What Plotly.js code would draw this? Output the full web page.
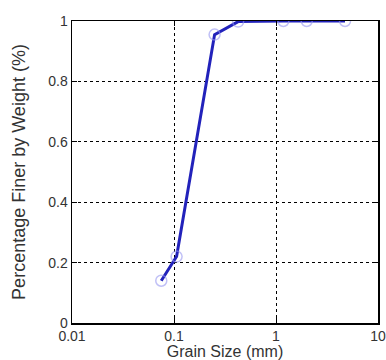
<!DOCTYPE html>
<html><head><meta charset="utf-8">
<script src="https://cdn.plot.ly/plotly-3.0.1.min.js"></script>
<style>html,body{margin:0;padding:0;background:#fff}#chart{width:386px;height:360px}</style>
</head><body><div id="chart"></div>
<script>
const grainSize = [0.075, 0.106, 0.25, 0.425, 1.18, 2.0, 4.75];
const percentFiner = [0.14, 0.22, 0.955, 0.998, 1.0, 1.0, 1.0];
const xTickVals = [0.01, 0.1, 1, 10];
const xTickText = ['0.01', '0.1', '1', '10'];
const yTickVals = [0, 0.2, 0.4, 0.6, 0.8, 1];
const yTickText = ['0', '0.2', '0.4', '0.6', '0.8', '1'];

const fam = 'Liberation Sans, Arial, sans-serif';
const tickFont = {family: fam, size: 14, color: '#333'};
const xTitleFont = {family: fam, size: 16, color: '#333'};
const yTitleFont = {family: fam, size: 18, color: '#333'};
const trace = {
  x: grainSize, y: percentFiner, type: 'scatter', mode: 'lines+markers',
  line: {color: '#2222bb', width: 3},
  marker: {symbol: 'circle-open', size: 11, color: 'rgba(150,150,240,0.6)', line: {width: 1.5}},
  hoverinfo: 'skip'
};
const layout = {
  width: 386, height: 360,
  margin: {l: 72, r: 8, t: 21, b: 37},
  paper_bgcolor: '#fff', plot_bgcolor: '#fff',
  showlegend: false, font: tickFont,
  xaxis: {
    type: 'log', range: [-2, 1], tickvals: xTickVals, ticktext: xTickText,
    showline: true, linecolor: '#000', linewidth: 1.5, mirror: 'ticks',
    ticks: 'inside', ticklen: 5, tickcolor: '#000',
    showgrid: true, gridcolor: '#000', griddash: 'dot', gridwidth: 1,
    zeroline: false, tickfont: tickFont,
    title: {text: 'Grain Size (mm)', font: xTitleFont, standoff: 0}
  },
  yaxis: {
    range: [0, 1], tickvals: yTickVals, ticktext: yTickText,
    showline: true, linecolor: '#000', linewidth: 1.5, mirror: 'ticks',
    ticks: 'inside', ticklen: 5, tickcolor: '#000',
    showgrid: true, gridcolor: '#000', griddash: 'dot', gridwidth: 1,
    zeroline: false, tickfont: tickFont,
    title: {text: 'Percentage Finer by Weight (%)', font: yTitleFont, standoff: 18}
  }
};
Plotly.newPlot('chart', [trace], layout, {displayModeBar: false, staticPlot: true});
</script></body></html>
